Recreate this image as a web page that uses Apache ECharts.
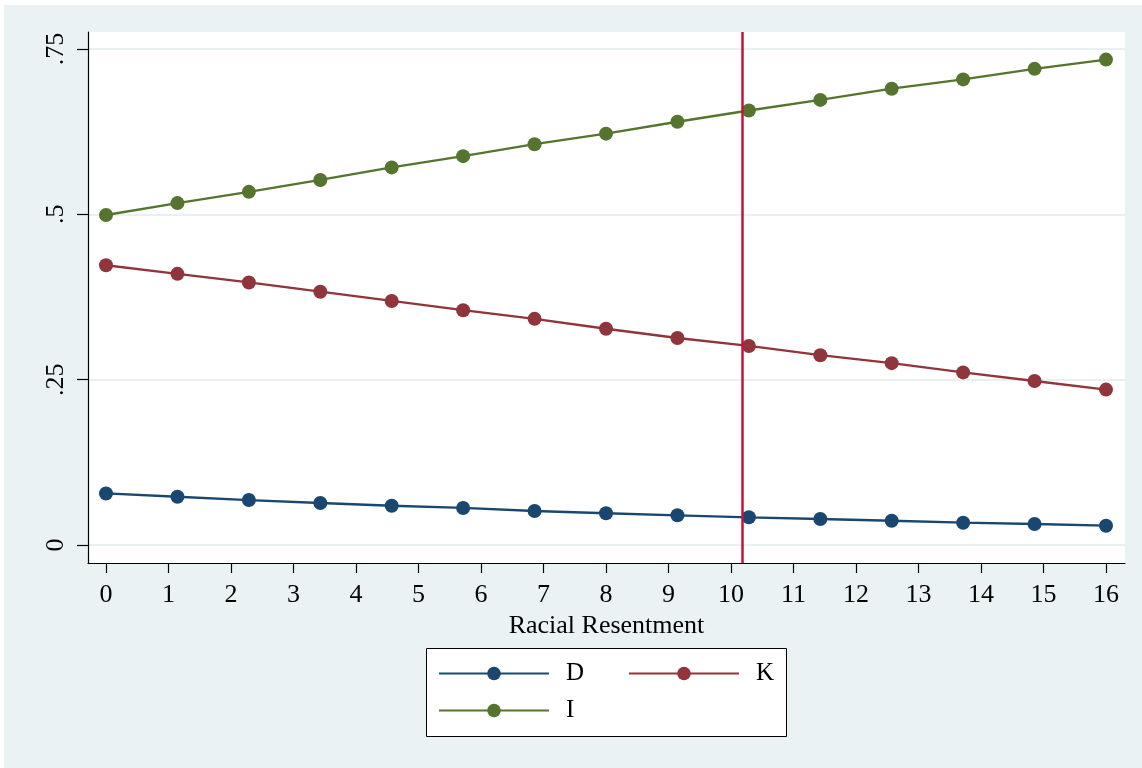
<!DOCTYPE html>
<html>
<head>
<meta charset="utf-8">
<script src="https://cdn.jsdelivr.net/npm/echarts@6/dist/echarts.min.js"></script>
<style>
html,body{margin:0;padding:0;background:#ffffff;width:1142px;height:768px;overflow:hidden;}
#chart{position:absolute;left:4px;top:5px;width:1138px;height:763px;}
</style>
</head>
<body>
<div id="chart"></div>
<script>
// ---- data ----
const racialResentment = [0, 1.143, 2.286, 3.429, 4.571, 5.714, 6.857, 8, 9.143, 10.286, 11.429, 12.571, 13.714, 14.857, 16];
const seriesD = [0.078, 0.073, 0.068, 0.0635, 0.0594, 0.056, 0.0514, 0.048, 0.0449, 0.0419, 0.0393, 0.0367, 0.0337, 0.0318, 0.0292];
const seriesK = [0.423, 0.410, 0.397, 0.383, 0.369, 0.355, 0.342, 0.327, 0.313, 0.301, 0.287, 0.275, 0.261, 0.248, 0.235];
const seriesI = [0.499, 0.517, 0.534, 0.552, 0.571, 0.588, 0.606, 0.622, 0.640, 0.657, 0.673, 0.690, 0.704, 0.720, 0.734];
const seriesNames = ['D', 'K', 'I'];
const xTicks = [0,1,2,3,4,5,6,7,8,9,10,11,12,13,14,15,16];
const yTicks = [0, 0.25, 0.5, 0.75];
const yTickLabels = ['0', '.25', '.5', '.75'];
const referenceX = 10.18;
const xTitle = 'Racial Resentment';

const colors = ['#1a476f', '#90353b', '#55752f'];
const FONT = '"Liberation Serif", "Times New Roman", serif';

function pairs(vals) { return racialResentment.map((x, i) => [x, vals[i]]); }

const chart = echarts.init(document.getElementById('chart'), null, {renderer: 'canvas'});
const dataSets = [seriesD, seriesK, seriesI];

const series = dataSets.map((vals, i) => ({
  name: seriesNames[i],
  type: 'line',
  data: pairs(vals),
  symbol: 'circle',
  symbolSize: 14,
  showSymbol: true,
  color: colors[i],
  lineStyle: {color: colors[i], width: 2.3},
  itemStyle: {color: colors[i]},
  emphasis: {disabled: true},
  z: 3
}));
series[0].markLine = {
  silent: true,
  symbol: 'none',
  label: {show: false},
  lineStyle: {color: '#c8103a', width: 2.5, type: 'solid'},
  data: [{xAxis: referenceX}],
  animation: false
};

chart.setOption({
  animation: false,
  backgroundColor: '#eaf2f3',
  textStyle: {fontFamily: FONT},
  graphic: [{
    type: 'rect',
    left: 422, top: 643,
    shape: {width: 360, height: 88},
    style: {fill: '#ffffff', stroke: '#000000', lineWidth: 1},
    z: -1
  }],
  grid: {
    left: 84, top: 27, right: 17, bottom: 205,
    show: true, backgroundColor: '#ffffff', borderWidth: 0,
    containLabel: false
  },
  legend: {
    data: seriesNames,
    left: 434, top: 656,
    width: 370,
    orient: 'horizontal',
    padding: 0,
    itemGap: 12,
    itemWidth: 110,
    itemHeight: 17,
    selectedMode: false,
    textStyle: {fontFamily: FONT, fontSize: 25, color: '#000', width: 50, lineHeight: 25, padding: [0, 0, 0, 12]}
  },
  xAxis: {
    type: 'value',
    min: -0.288, max: 16.304,
    name: xTitle,
    nameLocation: 'middle',
    nameGap: 41,
    nameTextStyle: {fontFamily: FONT, fontSize: 26, color: '#000'},
    axisLine: {show: true, onZero: false, lineStyle: {color: '#000', width: 1.2}},
    axisTick: {show: true, length: 10, customValues: xTicks, lineStyle: {color: '#000', width: 1.2}},
    axisLabel: {customValues: xTicks, fontFamily: FONT, fontSize: 26, color: '#000', margin: 19},
    splitLine: {show: false}
  },
  yAxis: {
    type: 'value',
    min: -0.0272, max: 0.7757,
    axisLine: {show: true, onZero: false, lineStyle: {color: '#000', width: 1.2}},
    axisTick: {show: true, length: 11, customValues: yTicks, lineStyle: {color: '#000', width: 1.2}},
    axisLabel: {
      customValues: yTicks, rotate: 90, fontFamily: FONT, fontSize: 26, color: '#000', margin: 19,
      formatter: function (v) { const i = yTicks.indexOf(v); return i >= 0 ? yTickLabels[i] : ''; }
    },
    splitLine: {show: true, lineStyle: {color: '#e8f0f2', width: 2}}
  },
  series: series
});
</script>
</body>
</html>
